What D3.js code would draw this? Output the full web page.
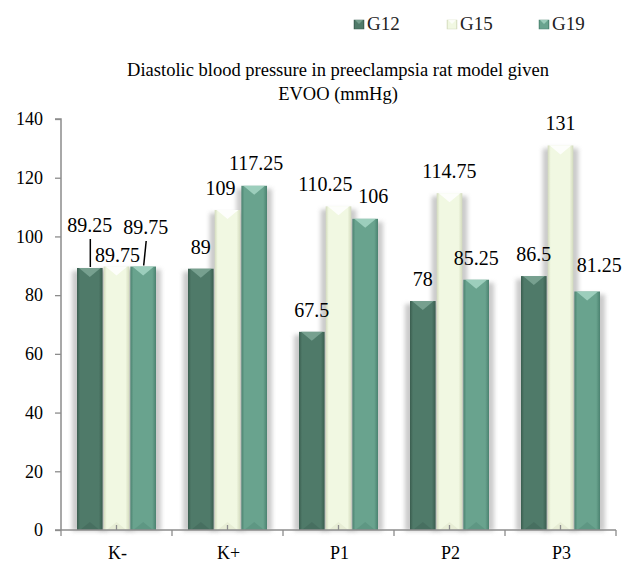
<!DOCTYPE html>
<html>
<head>
<meta charset="utf-8">
<script src="https://cdn.jsdelivr.net/npm/d3@7/dist/d3.min.js"></script>
<style>
  html, body { margin: 0; padding: 0; background: #fff; }
  svg { display: block; }
  text { font-family: "Liberation Serif", "Times New Roman", serif !important; }
</style>
</head>
<body>
<svg id="chart" width="626" height="562"></svg>
<script>
// ---- data ----
const categories = ["K-", "K+", "P1", "P2", "P3"];
const seriesNames = ["G12", "G15", "G19"];
const G12 = [89.25, 89, 67.5, 78, 86.5];
const G15 = [89.75, 109, 110.25, 114.75, 131];
const G19 = [89.75, 117.25, 106, 85.25, 81.25];
const yTicks = [0, 20, 40, 60, 80, 100, 120, 140];
const titleLines = ["Diastolic blood pressure in preeclampsia rat model given", "EVOO (mmHg)"];

// label nudges (px) for overlapping data labels, [series][category] -> [dx, dy, leader]
const labelNudge = {
  G12: [[0, -21, true], [0, 0], [0, 0], [0, 0], [0, 0]],
  G15: [[1, 10.5], [-7, 0], [-13, 0], [0, 0], [0, 0]],
  G19: [[2.5, -17.5, true], [2, -1], [8, -1], [0, 0], [12, -4]]
};

const FONT = "'Liberation Serif', 'Times New Roman', serif";
const seriesData = { G12, G15, G19 };
const colors = {
  G12: { mid: "#4f7a69", edge: "#3a5d4f", tri: "#7ea796" },
  G15: { mid: "#f1f8e2", edge: "#d3dbbd", tri: "#ffffff" },
  G19: { mid: "#69a38e", edge: "#4b8270", tri: "#a6d6c4" }
};

const svg = d3.select("#chart").attr("font-family", FONT);
const defs = svg.append("defs");

seriesNames.forEach(s => {
  const g = defs.append("linearGradient").attr("id", "grad-" + s)
    .attr("x1", "0").attr("x2", "1").attr("y1", "0").attr("y2", "0");
  g.append("stop").attr("offset", "0").attr("stop-color", colors[s].edge);
  g.append("stop").attr("offset", "0.12").attr("stop-color", colors[s].mid);
  g.append("stop").attr("offset", "0.85").attr("stop-color", colors[s].mid);
  g.append("stop").attr("offset", "1").attr("stop-color", colors[s].edge);
});
const blur = defs.append("filter").attr("id", "blur").attr("x", "-50%").attr("y", "-10%").attr("width", "200%").attr("height", "120%");
blur.append("feGaussianBlur").attr("stdDeviation", 2.2);

// scales
const x = d3.scaleBand().domain(categories).range([61, 616]).paddingInner(0).paddingOuter(0);
const x1 = d3.scaleBand().domain(seriesNames).range([16, 95]).paddingInner(0.04);
const y = d3.scaleLinear().domain([0, 140]).range([530, 119]);

// title
const title = svg.append("text").attr("text-anchor", "middle").attr("font-size", 18.5)
  .attr("font-family", FONT).attr("fill", "#000");
titleLines.forEach((t, i) => {
  title.append("tspan").attr("x", 338).attr("y", 76 + i * 24).text(t);
});

// legend
const legendX = [354, 447, 539];
seriesNames.forEach((s, i) => {
  const g = svg.append("g").attr("transform", `translate(${legendX[i]},0)`);
  g.append("rect").attr("x", 0).attr("y", 20).attr("width", 10).attr("height", 9)
    .attr("fill", "url(#grad-" + s + ")").attr("stroke", colors[s].edge).attr("stroke-width", 0.5);
  g.append("path").attr("d", "M1,20 L9,20 L5,24 Z").attr("fill", colors[s].tri).attr("opacity", 0.8);
  g.append("text").attr("x", 13).attr("y", 30).attr("font-size", 19)
    .attr("font-family", FONT).attr("fill", "#222").text(s);
});

const records = [];
categories.forEach((c, ci) => {
  seriesNames.forEach(s => {
    records.push({ cat: c, ci, s, v: seriesData[s][ci] });
  });
});

const plot = svg.append("g");

// shadows
plot.selectAll("rect.shadow").data(records).join("rect")
  .attr("class", "shadow")
  .attr("x", d => x(d.cat) + x1(d.s) - 5)
  .attr("y", d => y(d.v) + 3)
  .attr("width", x1.bandwidth() + 10)
  .attr("height", d => y(0) - y(d.v) - 2)
  .attr("fill", "#bdbdbd")
  .attr("opacity", 0.8)
  .attr("filter", "url(#blur)");

// bars
plot.selectAll("rect.bar").data(records).join("rect")
  .attr("class", "bar")
  .attr("x", d => x(d.cat) + x1(d.s))
  .attr("y", d => y(d.v))
  .attr("width", x1.bandwidth())
  .attr("height", d => y(0) - y(d.v))
  .attr("fill", d => "url(#grad-" + d.s + ")");

plot.selectAll("path.toptri").data(records).join("path")
  .attr("class", "toptri")
  .attr("d", d => {
    const x0 = x(d.cat) + x1(d.s), w = x1.bandwidth(), t = y(d.v);
    return `M${x0 + 2},${t} L${x0 + w - 2},${t} L${x0 + w / 2},${t + 9} Z`;
  })
  .attr("fill", d => colors[d.s].tri)
  .attr("opacity", 0.85);

plot.selectAll("path.bottri").data(records).join("path")
  .attr("class", "bottri")
  .attr("d", d => {
    const x0 = x(d.cat) + x1(d.s), w = x1.bandwidth(), b = y(0);
    return `M${x0 + 3},${b} L${x0 + w - 3},${b} L${x0 + w / 2},${b - 8} Z`;
  })
  .attr("fill", d => colors[d.s].edge)
  .attr("opacity", 0.35);

// axes
const axisColor = "#8c8c8c";
const yAxis = svg.append("g").attr("transform", "translate(61,0)")
  .call(d3.axisLeft(y).tickValues(yTicks).tickSize(6).tickPadding(12).tickFormat(d3.format("d")));
yAxis.attr("font-family", FONT).attr("font-size", 18);
yAxis.select(".domain").attr("stroke", axisColor).attr("stroke-width", 1.5).attr("d", `M-6,${y(140)}H0V${y(0)}`);
yAxis.selectAll(".tick line").attr("stroke", axisColor).attr("stroke-width", 1.3);
yAxis.selectAll(".tick text").attr("font-size", 18).attr("fill", "#000").attr("font-family", FONT);

const xAxis = svg.append("g").attr("transform", `translate(0,${y(0)})`);
xAxis.append("line").attr("x1", 55).attr("x2", 616).attr("y1", 0).attr("y2", 0)
  .attr("stroke", axisColor).attr("stroke-width", 1.5);
const bounds = categories.map(c => x(c)).concat([x.range()[1]]);
xAxis.selectAll("line.btick").data(bounds).join("line")
  .attr("class", "btick")
  .attr("x1", d => d).attr("x2", d => d).attr("y1", 0).attr("y2", 6)
  .attr("stroke", axisColor).attr("stroke-width", 1.3);
xAxis.selectAll("line.ctick").data(categories).join("line")
  .attr("class", "ctick")
  .attr("x1", d => x(d) + x.bandwidth() / 2).attr("x2", d => x(d) + x.bandwidth() / 2)
  .attr("y1", -5).attr("y2", 0)
  .attr("stroke", axisColor).attr("stroke-width", 1.3);
xAxis.selectAll("text.clabel").data(categories).join("text")
  .attr("class", "clabel")
  .attr("x", d => x(d) + x.bandwidth() / 2 + 1)
  .attr("y", 29)
  .attr("text-anchor", "middle")
  .attr("font-size", 18)
  .attr("font-family", FONT)
  .attr("fill", "#000")
  .text(d => d);

// data labels
const labelPos = d => {
  const n = labelNudge[d.s][d.ci];
  const cx = x(d.cat) + x1(d.s) + x1.bandwidth() / 2;
  return { lx: cx + n[0], ly: y(d.v) - 22 + n[1], cx, leader: !!n[2] };
};
plot.selectAll("text.dlabel").data(records).join("text")
  .attr("class", "dlabel")
  .attr("x", d => labelPos(d).lx)
  .attr("y", d => labelPos(d).ly + 7)
  .attr("text-anchor", "middle")
  .attr("font-size", 20)
  .attr("font-family", FONT)
  .attr("fill", "#000")
  .text(d => String(d.v));

plot.selectAll("line.leader").data(records.filter(d => labelPos(d).leader)).join("line")
  .attr("class", "leader")
  .attr("x1", d => labelPos(d).lx + 0.5)
  .attr("y1", d => labelPos(d).ly + 14)
  .attr("x2", d => labelPos(d).cx + 0.5)
  .attr("y2", d => y(d.v) - 1)
  .attr("stroke", "#000")
  .attr("stroke-width", 1.5);
</script>
</body>
</html>
